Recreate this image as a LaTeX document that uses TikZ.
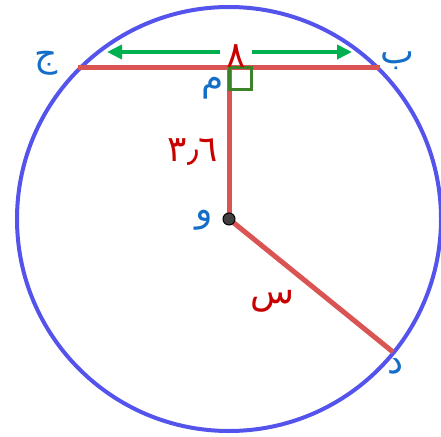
\documentclass[tikz,border=0pt]{standalone}
\usepackage{fontspec}
\newfontfamily\arabicfont[Script=Arabic]{DejaVu Sans}
\usetikzlibrary{arrows.meta}
\definecolor{circblue}{RGB}{84,84,236}
\definecolor{segred}{RGB}{219,84,84}
\definecolor{ptblue}{RGB}{20,110,200}
\definecolor{lenred}{RGB}{200,0,0}
\definecolor{arrgreen}{RGB}{0,176,80}
\definecolor{anglegreen}{RGB}{60,130,40}
\tikzstyle{rim}=[line width=4pt, draw=circblue]
\tikzstyle{segment}=[line width=5pt, draw=segred]
\tikzstyle{arrow}=[-{Triangle[length=15pt,width=14pt]}, line width=4pt, color=arrgreen]
\tikzstyle{rightangle}=[line width=3pt, draw=anglegreen]
\tikzstyle{ptlabel}=[font=\arabicfont\fontsize{36}{36}\selectfont, text=ptblue, inner sep=0pt]
\tikzstyle{lenlabel}=[font=\arabicfont\fontsize{36}{36}\selectfont, text=lenred, inner sep=0pt]
\tikzstyle{centre}=[circle, minimum size=12pt, inner sep=0pt, fill=black!75, draw=black, line width=1pt]

\begin{document}
\begin{tikzpicture}[x=1pt, y=-1pt]
  \useasboundingbox (0,0) rectangle (441,436);
  % points
  \coordinate (o) at (229,219);
  \coordinate (j) at (78,67);
  \coordinate (b) at (380,67);
  \coordinate (m) at (229,67);
  \coordinate (d) at (393,352);
  \coordinate (lt) at (107,52);
  \coordinate (rt) at (352,52);
  \draw[rim] (o) circle[radius=212pt];
  \draw[segment] (j) -- (b);
  \draw[segment] (o) -- (m);
  \draw[segment] (o) -- (d);
  \draw[rightangle] (m) rectangle ++(22,22);
  \node[centre] (oc) at (o) {};
  % labels
  \node[ptlabel] (jlab) at (46,63) {ج};
  \node[ptlabel] (blab) at (397,61) {ب};
  \node[ptlabel] (mlab) at (213,88) {م};
  \node[ptlabel] (olab) at (204,220) {و};
  \node[ptlabel] (dlab) at (396,366) {د};
  \node[lenlabel] (slab) at (272,301) {س};
  \node[lenlabel] (hlab) at (193,152) {٣٫٦};
  \node[lenlabel, minimum width=32pt] (eight) at (236,56) {٨};
  \draw[arrow] (eight.west |- lt) -- (lt);
  \draw[arrow] (eight.east |- rt) -- (rt);
\end{tikzpicture}
\end{document}
